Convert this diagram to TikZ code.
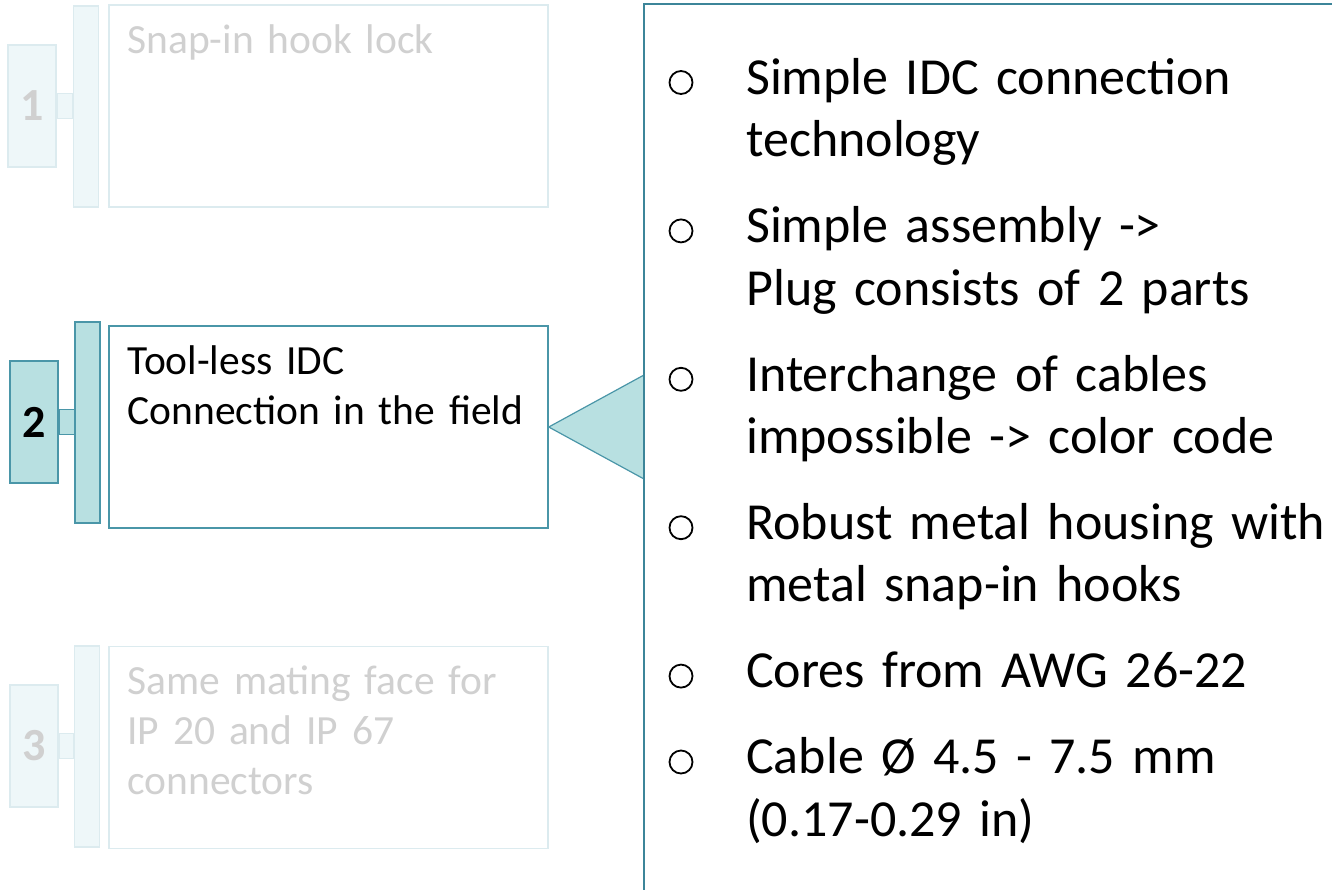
\documentclass[tikz,border=0pt]{standalone}
\usepackage{fontspec}
\setmainfont{Carlito}
\usetikzlibrary{positioning,calc}

\definecolor{tealline}{HTML}{4A96A8}
\definecolor{tealfill}{HTML}{B8E0E1}
\definecolor{paneline}{HTML}{3C8599}
\definecolor{fadeline}{HTML}{DCEBEF}
\definecolor{fadefill}{HTML}{EEF7F9}
\definecolor{fadetext}{HTML}{D0D0D0}

\tikzset{
  numbox/.style={rectangle, inner sep=0pt, minimum width=48pt, minimum height=122pt,
    font=\fontsize{46}{50}\selectfont\bfseries},
  barbox/.style={rectangle, inner sep=0pt, minimum width=25pt, minimum height=201pt},
  textbox/.style={rectangle, inner sep=0pt, minimum width=439pt, minimum height=202pt},
  boxtext/.style={anchor=north west, inner sep=0pt, text width=420pt, align=left,
    font=\fontsize{41.5}{50}\selectfont,
    execute at begin node=\strut, execute at end node=\strut},
  off/.style={draw=fadeline, fill=fadefill, line width=1.5pt, text=fadetext},
  on/.style={draw=tealline, fill=tealfill, line width=1.5pt, text=black},
  blanko/.style={draw=fadeline, fill=white, line width=1.5pt},
  blankon/.style={draw=tealline, fill=white, line width=1.5pt},
  bulletitem/.style={inner sep=0pt, text width=600pt, align=left,
    font=\fontsize{52}{62.5}\selectfont,
    execute at begin node=\strut, execute at end node=\strut},
  dot/.style={circle, draw=black, line width=1.8pt, minimum size=23pt, inner sep=0pt}
}

\begin{document}
\begin{tikzpicture}[x=1pt,y=-1pt]
\useasboundingbox (0,0) rectangle (1332,889);

% item 1 (faded)
\node[numbox, off] (n1) at (32,106) {1};
\node[barbox, off] (bar1) at (86,106.5) {};
\draw[off] ([yshift=12.5pt]n1.east) rectangle ([yshift=-12.5pt]n1.east -| bar1.west);
\node[textbox, blanko] (box1) at (328.5,106) {};
\node[boxtext, text=fadetext] (t1) at ($(box1.north west)+(19,14)$) {Snap-in hook lock};

% item 2 (active)
\node[numbox, on] (n2) at (34,422) {2};
\node[barbox, on] (bar2) at (87.5,422.5) {};
\draw[on] ([yshift=12.5pt]n2.east) rectangle ([yshift=-12.5pt]n2.east -| bar2.west);
\node[textbox, blankon] (box2) at (328.5,427) {};
\node[boxtext] (t2) at ($(box2.north west)+(19,14)$) {Tool-less IDC\\Connection in the field};

% item 3 (faded)
\node[numbox, off] (n3) at (34,746) {3};
\node[barbox, off] (bar3) at (87,746.5) {};
\draw[off] ([yshift=12.5pt]n3.east) rectangle ([yshift=-12.5pt]n3.east -| bar3.west);
\node[textbox, blanko] (box3) at (328.5,747.5) {};
\node[boxtext, text=fadetext] (t3) at ($(box3.north west)+(19,14)$) {Same mating face for\\IP 20 and IP 67\\connectors};

% detail panel
\node[rectangle, inner sep=0pt, minimum width=760pt, minimum height=960pt, anchor=north west] (panel) at (644,4) {};
\filldraw[fill=tealfill, draw=tealline, line width=1.2pt]
  (box2.east) -- ([yshift=52pt]box2.east -| panel.west) -- ([yshift=-52pt]box2.east -| panel.west) -- cycle;
\draw[paneline, line width=2.5pt] (panel.south west) -- (panel.north west) -- (panel.north east);

% bullet list
\node[bulletitem, anchor=north west] (i1) at (746,50.25) {Simple IDC connection\\technology};
\node[bulletitem, below=23pt of i1] (i2) {Simple assembly ->\\Plug consists of 2 parts};
\node[bulletitem, below=23pt of i2] (i3) {Interchange of cables\\impossible -> color code};
\node[bulletitem, below=23pt of i3] (i4) {Robust metal housing with\\metal snap-in hooks};
\node[bulletitem, below=23pt of i4] (i5) {Cores from AWG 26-22};
\node[bulletitem, below=23pt of i5] (i6) {Cable Ø 4.5 - 7.5 mm\\(0.17-0.29 in)};

\node[dot] (b1) at ($(i1.north west)+(-65,32.25)$) {};
\node[dot] (b2) at ($(i2.north west)+(-65,32.25)$) {};
\node[dot] (b3) at ($(i3.north west)+(-65,32.25)$) {};
\node[dot] (b4) at ($(i4.north west)+(-65,32.25)$) {};
\node[dot] (b5) at ($(i5.north west)+(-65,32.25)$) {};
\node[dot] (b6) at ($(i6.north west)+(-65,32.25)$) {};
\end{tikzpicture}
\end{document}
